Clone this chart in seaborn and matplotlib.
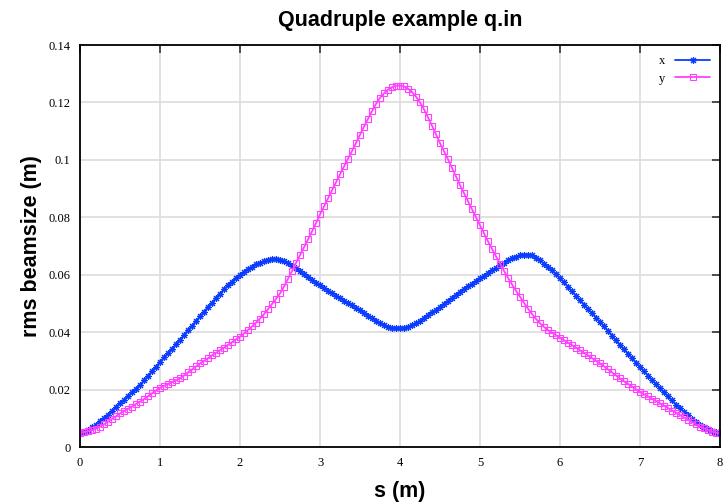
import numpy as np
import pandas as pd
import matplotlib
matplotlib.use('Agg')
import matplotlib.pyplot as plt
import seaborn as sns
from matplotlib.ticker import FormatStrFormatter

# rms beamsize in x and y, every 0.05 m from s=0 to s=8
x_size = [
    0.0050, 0.0054, 0.0060, 0.0068, 0.0078, 0.0090, 0.0101, 0.0113, 0.0126, 0.0139,
    0.0152, 0.0164, 0.0177, 0.0190, 0.0203, 0.0216, 0.0232, 0.0248, 0.0264, 0.0280,
    0.0296, 0.0312, 0.0327, 0.0343, 0.0358, 0.0374, 0.0390, 0.0406, 0.0422, 0.0439,
    0.0455, 0.0471, 0.0487, 0.0503, 0.0519, 0.0534, 0.0549, 0.0563, 0.0576, 0.0589,
    0.0600, 0.0610, 0.0619, 0.0628, 0.0636, 0.0642, 0.0648, 0.0652, 0.0655, 0.0655,
    0.0653, 0.0648, 0.0641, 0.0632, 0.0622, 0.0612, 0.0602, 0.0592, 0.0582, 0.0572,
    0.0563, 0.0554, 0.0545, 0.0536, 0.0527, 0.0518, 0.0510, 0.0501, 0.0493, 0.0484,
    0.0476, 0.0467, 0.0458, 0.0449, 0.0440, 0.0432, 0.0425, 0.0419, 0.0416, 0.0414,
    0.0414, 0.0415, 0.0419, 0.0425, 0.0432, 0.0440, 0.0450, 0.0459, 0.0469, 0.0478,
    0.0488, 0.0498, 0.0509, 0.0519, 0.0530, 0.0540, 0.0550, 0.0560, 0.0569, 0.0579,
    0.0588, 0.0597, 0.0606, 0.0615, 0.0624, 0.0633, 0.0642, 0.0650, 0.0657, 0.0663,
    0.0667, 0.0670, 0.0670, 0.0667, 0.0660, 0.0650, 0.0639, 0.0627, 0.0615, 0.0602,
    0.0588, 0.0573, 0.0558, 0.0542, 0.0527, 0.0511, 0.0496, 0.0481, 0.0466, 0.0451,
    0.0436, 0.0420, 0.0404, 0.0388, 0.0371, 0.0355, 0.0340, 0.0325, 0.0310, 0.0294,
    0.0279, 0.0264, 0.0249, 0.0234, 0.0219, 0.0204, 0.0190, 0.0176, 0.0162, 0.0148,
    0.0135, 0.0122, 0.0110, 0.0098, 0.0087, 0.0078, 0.0069, 0.0062, 0.0056, 0.0051,
    0.0048,
]
y_size = [
    0.0050, 0.0052, 0.0055, 0.0059, 0.0064, 0.0071, 0.0079, 0.0088, 0.0098, 0.0107,
    0.0117, 0.0125, 0.0133, 0.0141, 0.0150, 0.0158, 0.0167, 0.0177, 0.0187, 0.0197,
    0.0206, 0.0213, 0.0219, 0.0226, 0.0232, 0.0239, 0.0249, 0.0260, 0.0270, 0.0281,
    0.0291, 0.0300, 0.0309, 0.0319, 0.0328, 0.0337, 0.0346, 0.0356, 0.0365, 0.0375,
    0.0384, 0.0396, 0.0408, 0.0420, 0.0433, 0.0447, 0.0463, 0.0480, 0.0498, 0.0516,
    0.0535, 0.0559, 0.0586, 0.0613, 0.0641, 0.0668, 0.0696, 0.0723, 0.0751, 0.0780,
    0.0810, 0.0838, 0.0866, 0.0894, 0.0922, 0.0950, 0.0977, 0.1004, 0.1031, 0.1059,
    0.1088, 0.1116, 0.1143, 0.1170, 0.1195, 0.1216, 0.1232, 0.1245, 0.1253, 0.1258,
    0.1259, 0.1256, 0.1248, 0.1236, 0.1220, 0.1200, 0.1176, 0.1148, 0.1119, 0.1089,
    0.1058, 0.1030, 0.1002, 0.0972, 0.0942, 0.0912, 0.0884, 0.0856, 0.0828, 0.0800,
    0.0772, 0.0744, 0.0716, 0.0690, 0.0664, 0.0639, 0.0613, 0.0589, 0.0566, 0.0544,
    0.0523, 0.0502, 0.0482, 0.0463, 0.0446, 0.0431, 0.0418, 0.0407, 0.0398, 0.0389,
    0.0381, 0.0372, 0.0363, 0.0355, 0.0346, 0.0337, 0.0328, 0.0319, 0.0310, 0.0300,
    0.0291, 0.0281, 0.0270, 0.0260, 0.0249, 0.0239, 0.0229, 0.0220, 0.0210, 0.0201,
    0.0192, 0.0184, 0.0176, 0.0168, 0.0160, 0.0152, 0.0144, 0.0136, 0.0127, 0.0119,
    0.0111, 0.0103, 0.0095, 0.0087, 0.0079, 0.0071, 0.0065, 0.0059, 0.0054, 0.0050,
    0.0048,
]
s_pos = np.round(np.arange(len(x_size)) * 0.05, 2)

x_ticks = [0, 1, 2, 3, 4, 5, 6, 7, 8]
y_ticks = [0, 0.02, 0.04, 0.06, 0.08, 0.1, 0.12, 0.14]

df = pd.DataFrame({'s': s_pos, 'x': x_size, 'y': y_size})

sns.set_theme(style="white")
plt.rcParams['font.family'] = ['Liberation Serif', 'DejaVu Serif']
plt.rcParams['text.color'] = 'black'
plt.rcParams['axes.labelcolor'] = 'black'
plt.rcParams['xtick.color'] = 'black'
plt.rcParams['ytick.color'] = 'black'

fig = plt.figure(figsize=(7.24, 5.03), dpi=100)
ax = fig.add_axes([0.1105, 0.1113, 0.884, 0.7992])

sns.lineplot(data=df, x='s', y='x', ax=ax, color='#0a3cff', lw=1.3,
             marker=(8, 2, 0), markersize=5, mew=0.8, mec='#0a3cff',
             label='x', errorbar=None)
sns.lineplot(data=df, x='s', y='y', ax=ax, color='#ff40ff', lw=1.3,
             marker='s', markersize=4.2, mfc='none', mew=0.8, mec='#ff40ff',
             label='y', errorbar=None)

ax.set_xlim(0, 8)
ax.set_ylim(0, 0.14)
ax.set_xticks(x_ticks)
ax.set_yticks(y_ticks)
ax.yaxis.set_major_formatter(FormatStrFormatter('%g'))
ax.grid(True, color='#dcdcdc', lw=1.2)
ax.set_axisbelow(True)
for sp in ax.spines.values():
    sp.set_color('black')
    sp.set_linewidth(1.3)
ax.tick_params(direction='in', length=6, width=1.3, color='#404040',
               labelcolor='black', top=True, right=True, labelsize=9, pad=7)
for lbl in ax.get_xticklabels() + ax.get_yticklabels():
    lbl.set_fontfamily(['Liberation Serif', 'DejaVu Serif'])

bold = dict(family=['Liberation Sans', 'DejaVu Sans'], weight='bold',
            size=15.5, color='black')
ax.set_title('Quadruple example q.in', pad=14, **bold)
ax.set_xlabel('s (m)', labelpad=9, **bold)
ax.set_ylabel('rms beamsize (m)', labelpad=4.5, **bold)

leg = ax.legend(loc='upper right', frameon=False, markerfirst=False,
                numpoints=1, handlelength=2.8, fontsize=9,
                borderaxespad=0.4, labelspacing=0.45)
for t in leg.get_texts():
    t.set_color('black')

fig.savefig('out.png', dpi=100)
